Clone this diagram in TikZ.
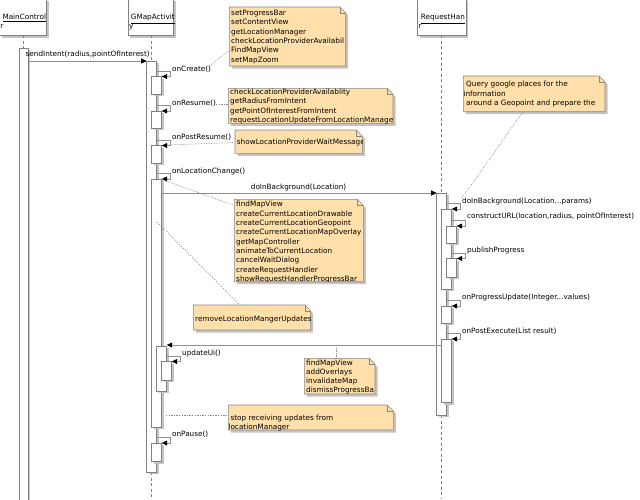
\documentclass[tikz,border=0pt]{standalone}
\usepackage{fontspec}
\setmainfont{DejaVu Sans}
\usetikzlibrary{arrows.meta}
\definecolor{notefill}{RGB}{255,224,170}
\definecolor{noteline}{RGB}{135,135,135}
\definecolor{shadowc}{RGB}{196,196,196}
\definecolor{barline}{RGB}{128,128,128}
\definecolor{msgc}{RGB}{145,145,145}

\newcommand\umlnote[7]{%
  \fill[shadowc] (#2+2.5,#3+2.5) -- (#4-3.5,#3+2.5) -- (#4+2.5,#3+8.5) -- (#4+2.5,#5+2.5) -- (#2+2.5,#5+2.5) -- cycle;
  \filldraw[fill=notefill,draw=noteline,line width=0.6pt] (#2,#3) -- (#4-6,#3) -- (#4,#3+6) -- (#4,#5) -- (#2,#5) -- cycle;
  \draw[noteline,line width=0.4pt] (#4-6,#3) -- (#4-6,#3+6) -- (#4,#3+6);
  \begin{scope}
    \clip (#2,#3) rectangle (#4,#5);
    \node[notetext] (#1) at (#2+1.7,#6-6.53) {\strut #7};
  \end{scope}}

\newcommand\actbar[4]{%
  \fill[shadowc] (#1+2,#2+2) rectangle (#3+2,#4+2);
  \filldraw[fill=white,draw=barline,line width=0.6pt] (#1,#2) rectangle (#3,#4);}

\newcommand\selfcall[6]{%
  \draw[msg] (#2,#4) -- (#3+9,#4) -- (#3+9,#4+5.5) -- (#3,#4+5.5);
  \node[lbl] (#1) at (#3+10.3,#6) {#5};}

\begin{document}
\begin{tikzpicture}[x=1pt,y=-1pt,
  lbl/.style={anchor=base west,inner sep=0pt,font=\fontsize{7.25}{9.33}\selectfont},
  notetext/.style={anchor=north west,inner sep=0pt,align=left,font=\fontsize{7.3}{9.33}\selectfont},
  msg/.style={draw=msgc,line width=0.6pt,-{Triangle[length=5.5pt,width=5pt,color=black]}},
  lifeline/.style={draw=barline,line width=0.6pt,dash pattern=on 3pt off 2.5pt},
  notelink/.style={draw=noteline,line width=0.5pt,dash pattern=on 1.3pt off 1.3pt},
  headbox/.style={fill=white,draw=barline,line width=0.6pt}]
\fill[white] (0,0) rectangle (640,499);
\useasboundingbox (0,0) rectangle (640,499);

% heads
\fill[shadowc] (1.5,1) rectangle (48.5,37.5);
\path[headbox] (-1,-1) rectangle (46.3,35);
\node[lbl] (mct) at (2.3,19.8) {\underline{MainControl}};
\node[lbl] (mcr) at (0.2,28.8) {r};
\fill[shadowc] (130,1) rectangle (175.5,37.5);
\path[headbox] (128,-1) rectangle (173.3,35);
\node[lbl] (gat) at (130.7,19.8) {\underline{GMapActivit}};
\node[lbl] (gay) at (128.8,28.8) {y};
\fill[shadowc] (420,1) rectangle (468.3,37.5);
\path[headbox] (417.7,-1) rectangle (466,35);
\node[lbl] (rht) at (420.7,19.8) {\underline{RequestHan}};
\node[lbl] (rhr) at (418.4,28.8) {r};

% lifelines
\draw[lifeline] (23.6,35) -- (23.6,48);
\draw[lifeline] (151.7,35) -- (151.7,61);
\draw[lifeline] (151.7,472) -- (151.7,499);
\draw[lifeline] (441.7,35) -- (441.7,193);
\draw[lifeline] (441.7,415) -- (441.7,499);

% MainController
\actbar{19}{48}{28.3}{505}
\draw[msg] (28.3,61) -- (146.7,61);
\node[lbl] (m1) at (25.5,56.3) {sendIntent(radius,pointOfInterest)};

% GMapActivity
\actbar{146.7}{61}{156.7}{472}
\selfcall{lc1}{156.7}{161.7}{71}{onCreate()}{71.3}
\actbar{151.7}{76.5}{161.7}{94}
\selfcall{lc2}{156.7}{161.7}{105.5}{onResume()}{105.5}
\actbar{151.7}{111}{161.7}{128}
\selfcall{lc3}{156.7}{161.7}{140}{onPostResume()}{139}
\actbar{151.7}{145.5}{161.7}{163}
\selfcall{lc4}{156.7}{161.7}{173.5}{onLocationChange()}{173.3}
\actbar{151.7}{179}{161.7}{427}
\actbar{156.7}{346}{166.7}{391}
\selfcall{lc5}{166.7}{171.7}{356}{updateUi()}{355.5}
\actbar{161.7}{361.5}{171.7}{380}
\selfcall{lc6}{156.7}{161.7}{437.5}{onPause()}{436.5}
\actbar{151.7}{443}{161.7}{461.7}

% doInBackground message
\draw[msg] (161.7,193) -- (436.7,193);
\node[lbl] (m2) at (250.7,189) {doInBackground(Location)};

% RequestHandler
\actbar{436.7}{193}{446.7}{415}
\selfcall{rc1}{446.7}{451.7}{203.5}{doInBackground(Location...params)}{203.3}
\actbar{441.7}{209}{451.7}{289}
\selfcall{rc2}{451.7}{456.7}{220.5}{constructURL(location,radius, pointOfInterest)}{218.5}
\actbar{446.7}{226}{456.7}{243.3}
\selfcall{rc3}{451.7}{456.7}{253}{publishProgress}{252.3}
\actbar{446.7}{258.5}{456.7}{277.3}
\selfcall{rc4}{446.7}{451.7}{300.5}{onProgressUpdate(Integer...values)}{299}
\actbar{441.7}{306}{451.7}{323.3}
\selfcall{rc5}{446.7}{451.7}{333.5}{onPostExecute(List result)}{333}
\actbar{441.7}{339}{451.7}{402.7}

% return
\draw[msg] (441.7,345) -- (166.7,345);

% notes
\umlnote{n1}{229.3}{7}{345.7}{66}{15.2}{setProgressBar\\setContentView\\getLocationManager\\checkLocationProviderAvailabil\\FindMapView\\setMapZoom}
\draw[notelink] (209,66) -- (229.3,50.5);
\umlnote{n2}{228.3}{88.3}{393}{123.3}{94.2}{checkLocationProviderAvailablity\\getRadiusFromIntent\\getPointOfInterestFromIntent\\requestLocationUpdateFromLocationManage}
\draw[notelink] (216,104.3) -- (228.3,104.3);
\umlnote{n3}{235}{130}{362.3}{153.3}{144.2}{showLocationProviderWaitMessage}
\draw[notelink] (167,145) -- (235,142.5);
\umlnote{n4}{234.3}{199.3}{363.3}{281.7}{206.5}{findMapView\\createCurrentLocationDrawable\\createCurrentLocationGeopoint\\createCurrentLocationMapOverlay\\getMapController\\animateToCurrentLocation\\cancelWaitDialog\\createRequestHandler\\showRequestHandlerProgressBar}
\draw[notelink] (163.3,180) -- (234.3,205.5);
\umlnote{n5}{193.3}{305}{310.7}{330}{320.8}{removeLocationMangerUpdates}
\draw[notelink] (157,222) -- (240,305);
\umlnote{n6}{304.3}{358.3}{375}{394}{364.8}{findMapView\\addOverlays\\invalidateMap\\dismissProgressBa}
\draw[notelink] (336.7,345) -- (336.7,358.3);
\umlnote{n7}{228.3}{405}{393.3}{430}{419.8}{\hspace*{0.3pt}stop receiving updates from\\\hspace*{-1.7pt}locationManager}
\draw[notelink] (166,415) -- (228.3,415);
\umlnote{n8}{463.3}{76}{605}{111.7}{86.5}{\hspace*{1pt}Query google places for the\\\hspace*{-1.7pt}information\\\hspace*{1pt}around a Geopoint and prepare the}
\draw[notelink] (462,198) -- (523,111.7);
\end{tikzpicture}
\end{document}
